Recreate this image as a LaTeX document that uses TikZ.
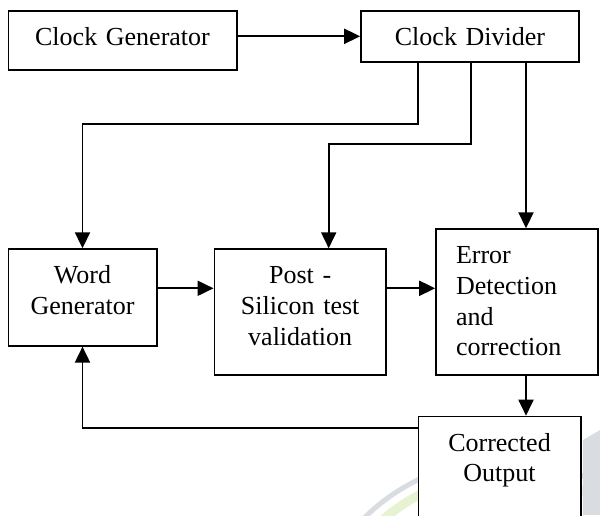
\documentclass[tikz,border=0pt]{standalone}
\usepackage{fontspec}
\setmainfont{Liberation Serif}
\usepackage{xcolor}
\definecolor{markGrey}  {HTML}{D9DDE1}
\definecolor{markGreen} {HTML}{E6F2D2}
\usetikzlibrary{arrows.meta, positioning, calc}
\tikzset{
    block/.style={draw, line width=1.6pt, fill=white, anchor=north,
                  inner xsep=0pt, inner ysep=0pt, text height=34.7pt,
                  align=center, font=\fontsize{26}{30.7}\selectfont},
    lblock/.style={block, align=left, inner xsep=20pt},
    link/.style={-{Triangle[length=16pt, width=15pt]}, line width=1.9pt},
}

\begin{document}
\begin{tikzpicture}[x=1pt, y=-1pt]
    \useasboundingbox (0,0) rectangle (600,515);
    \clip (0,0) rectangle (600,515);
    % faint logo behind the last box
    \draw[markGrey, line width=5pt] (505,660) circle[radius=200pt];
    \draw[markGreen, line width=9pt] (505,660) circle[radius=186pt];
    \fill[markGrey] (583,440) -- (600,430) -- (600,515) -- (583,515) -- cycle;

    \node[block, text width=228.4pt, text depth=24.6pt] (clkgen) at (122.5,10) {Clock Generator};
    \node[block, text width=218pt, text depth=16.3pt] (clkdiv) at (470,10) {Clock Divider};
    \node[block, text width=148.4pt, text depth=62pt] (wordgen) at (82.5,248.3) {Word\\Generator};
    \node[block, text width=171.7pt, text depth=91pt] (postsi) at (300.2,248.3) {Post -\\Silicon test\\validation};
    \node[lblock, text width=122pt, text depth=111pt] (errdet) at (517,228.3) {Error\\Detection\\and\\correction};
    \node[block, text width=162.4pt, text depth=100pt] (corrout) at (499.5,415.7) {Corrected\\Output};

    \coordinate (bendA) at (418.3,124);
    \coordinate (bendB) at (470.7,144);
    \coordinate (bendC) at (328.7,144);
    \coordinate (tapC) at (526,0);
    \coordinate (row) at (0,288.3);
    \coordinate (back) at (0,427.7);

    \draw[link] (clkgen.east |- clkdiv.west) -- (clkdiv.west);
    \draw[link] (clkdiv.south -| bendA) -- (bendA) -| (wordgen.north);
    \draw[link] (clkdiv.south -| bendB) -- (bendB) -- (bendC) -- (bendC |- postsi.north);
    \draw[link] (clkdiv.south -| tapC) -- (errdet.north -| tapC);
    \draw[link] (wordgen.east |- row) -- (postsi.west |- row);
    \draw[link] (postsi.east |- row) -- (errdet.west |- row);
    \draw[link] (errdet.south -| tapC) -- (corrout.north -| tapC);
    \draw[link] (corrout.west |- back) -| (wordgen.south);
\end{tikzpicture}
\end{document}
